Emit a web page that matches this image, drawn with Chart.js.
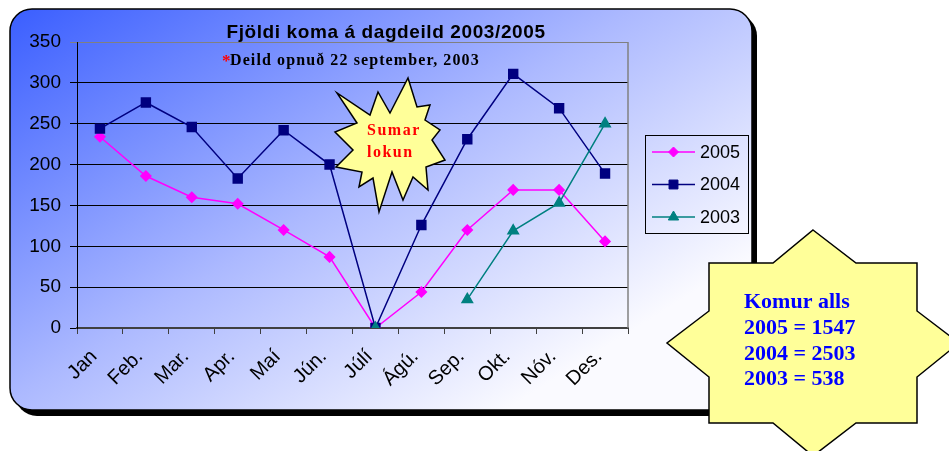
<!DOCTYPE html>
<html>
<head>
<meta charset="utf-8">
<script src="https://cdn.jsdelivr.net/npm/chart.js@4/dist/chart.umd.min.js"></script>
<style>
  html, body { margin: 0; padding: 0; background: #ffffff; }
  #wrap { width: 949px; height: 451px; position: relative; }
  canvas { display: block; }
</style>
</head>
<body>
<div id="wrap"><canvas id="c" width="949" height="451"></canvas></div>
<script>
// ---- data ----
const months = ['Jan', 'Feb.', 'Mar.', 'Apr.', 'Maí', 'Jún.', 'Júlí', 'Ágú.', 'Sep.', 'Okt.', 'Nóv.', 'Des.'];
const series2005 = [234, 186, 160, 152, 120, 87, 0, 44, 120, 169, 169, 106];
const series2004 = [244, 276, 246, 183, 242, 200, 0, 126, 231, 311, 269, 189];
const series2003 = [null, null, null, null, null, null, 0, null, 35, 119, 153, 250];
const seriesNames = ['2005', '2004', '2003'];
const yMax = 350;
const yStep = 50;
const titleText = 'Fjöldi koma á dagdeild 2003/2005';
const noteText = 'Deild opnuð 22 september, 2003';
const burstLines = ['Sumar', 'lokun'];
const totalsLines = ['Komur alls', '2005 = 1547', '2004 = 2503', '2003 = 538'];

const SANS = '"Liberation Sans", Arial, sans-serif';
const SERIF = '"Liberation Serif", "Times New Roman", serif';

function roundRect(ctx, x, y, w, h, r) {
  ctx.beginPath();
  ctx.moveTo(x + r, y);
  ctx.lineTo(x + w - r, y);
  ctx.arcTo(x + w, y, x + w, y + r, r);
  ctx.lineTo(x + w, y + h - r);
  ctx.arcTo(x + w, y + h, x + w - r, y + h, r);
  ctx.lineTo(x + r, y + h);
  ctx.arcTo(x, y + h, x, y + h - r, r);
  ctx.lineTo(x, y + r);
  ctx.arcTo(x, y, x + r, y, r);
  ctx.closePath();
}

function polygon(ctx, cx, cy, pts) {
  ctx.beginPath();
  pts.forEach((p, i) => {
    if (i === 0) ctx.moveTo(cx + p[0], cy + p[1]);
    else ctx.lineTo(cx + p[0], cy + p[1]);
  });
  ctx.closePath();
}

// starburst outline, offsets from its centre
const burstShape = [
  [18, -67], [27, -38], [40, -40], [35, -25], [50, -15], [42, -5], [55, 15], [36, 22],
  [38, 45], [23, 32], [13, 55], [2, 27], [-11, 67], [-17, 33], [-31, 42], [-28, 27],
  [-54, 22], [-37, 5], [-55, -13], [-33, -22], [-53, -52], [-20, -30], [-12, -53], [0, -32]
];
// eight-point star outline, offsets from its centre
const star8Shape = [
  [0, -113], [43, -80], [104, -80], [104, -32], [146, 0], [104, 34], [104, 80], [43, 80],
  [0, 113], [-40, 80], [-104, 80], [-104, 34], [-146, 0], [-104, -32], [-104, -80], [-40, -80]
];

function drawMarker(ctx, style, x, y, r, color) {
  if (Chart.helpers && Chart.helpers.drawPoint) {
    ctx.save();
    ctx.fillStyle = color;
    ctx.strokeStyle = color;
    ctx.lineWidth = 1;
    Chart.helpers.drawPoint(ctx, { pointStyle: style, radius: r, rotation: 0, borderWidth: 1 }, x, y);
    ctx.restore();
  }
}

const decor = {
  id: 'decor',
  beforeDraw(chart) {
    const ctx = chart.ctx;
    ctx.save();
    // shadow
    ctx.fillStyle = '#000000';
    roundRect(ctx, 15, 14, 742, 402, 22);
    ctx.fill();
    // frame
    const g = ctx.createLinearGradient(10, 9, 330, 520);
    g.addColorStop(0, 'rgb(58,94,255)');
    g.addColorStop(0.55, 'rgb(172,185,255)');
    g.addColorStop(1, 'rgb(250,250,255)');
    ctx.fillStyle = g;
    roundRect(ctx, 10, 9, 742, 401, 22);
    ctx.fill();
    ctx.lineWidth = 1.5;
    ctx.strokeStyle = '#000000';
    ctx.stroke();
    ctx.restore();
  },
  beforeDatasetsDraw(chart) {
    const ctx = chart.ctx;
    const a = chart.chartArea;
    ctx.save();
    ctx.strokeStyle = '#808080';
    ctx.lineWidth = 1.5;
    ctx.beginPath();
    ctx.moveTo(a.right, a.top);
    ctx.lineTo(a.right, a.bottom);
    ctx.stroke();
    ctx.restore();
  },
  afterDraw(chart) {
    const ctx = chart.ctx;
    ctx.save();
    // title
    ctx.fillStyle = '#000000';
    ctx.font = 'bold 19px ' + SANS;
    ctx.textAlign = 'center';
    ctx.textBaseline = 'alphabetic';
    ctx.letterSpacing = '0.6px';
    ctx.fillText(titleText, 386, 38);
    // note
    ctx.textAlign = 'left';
    ctx.letterSpacing = '1.1px';
    ctx.font = 'bold 16px ' + SERIF;
    ctx.fillText(noteText, 230, 65);
    ctx.letterSpacing = '0px';
    ctx.fillStyle = '#ff0000';
    ctx.font = 'bold 17px ' + SERIF;
    ctx.fillText('*', 222, 66);

    // starburst
    ctx.fillStyle = '#ffff99';
    ctx.strokeStyle = '#000000';
    ctx.lineWidth = 1.5;
    ctx.lineJoin = 'miter';
    polygon(ctx, 390, 145, burstShape);
    ctx.fill();
    ctx.stroke();
    ctx.fillStyle = '#ff0000';
    ctx.font = 'bold 16px ' + SERIF;
    ctx.letterSpacing = '1.5px';
    ctx.fillText(burstLines[0], 367, 135);
    ctx.fillText(burstLines[1], 367, 157);
    ctx.letterSpacing = '0px';

    // legend
    ctx.strokeStyle = '#000000';
    ctx.lineWidth = 1;
    ctx.strokeRect(645.5, 135.5, 103, 98);
    const ys = [152, 184.5, 217];
    chart.data.datasets.forEach((ds, i) => {
      const y = ys[i];
      ctx.strokeStyle = ds.borderColor;
      ctx.lineWidth = ds.borderWidth;
      ctx.beginPath();
      ctx.moveTo(652, y);
      ctx.lineTo(695, y);
      ctx.stroke();
      drawMarker(ctx, ds.pointStyle, 673.5, y, ds.pointRadius, ds.pointBackgroundColor);
      ctx.fillStyle = '#000000';
      ctx.font = '18px ' + SANS;
      ctx.textBaseline = 'middle';
      ctx.fillText(ds.label, 700, y + 1);
    });
    ctx.textBaseline = 'alphabetic';

    // eight point star with totals
    ctx.fillStyle = '#ffff99';
    ctx.strokeStyle = '#000000';
    ctx.lineWidth = 1.5;
    polygon(ctx, 813, 343, star8Shape);
    ctx.fill();
    ctx.stroke();
    ctx.fillStyle = '#0000ff';
    ctx.font = 'bold 22px ' + SERIF;
    const base = [308, 333.5, 359.5, 385];
    totalsLines.forEach((t, i) => ctx.fillText(t, 744, base[i]));
    ctx.restore();
  }
};

new Chart(document.getElementById('c'), {
  type: 'line',
  data: {
    labels: months,
    datasets: [
      { label: seriesNames[0], data: series2005, borderColor: '#ff00ff', backgroundColor: '#ff00ff',
        pointBackgroundColor: '#ff00ff', pointBorderColor: '#ff00ff', pointStyle: 'rectRot',
        pointRadius: 5, borderWidth: 1.5, order: 2, tension: 0 },
      { label: seriesNames[1], data: series2004, borderColor: '#000080', backgroundColor: '#000080',
        pointBackgroundColor: '#000080', pointBorderColor: '#000080', pointStyle: 'rect',
        pointRadius: 6.3, borderWidth: 1.5, order: 1, tension: 0 },
      { label: seriesNames[2], data: series2003, borderColor: '#008080', backgroundColor: '#008080',
        pointBackgroundColor: '#008080', pointBorderColor: '#008080', pointStyle: 'triangle',
        pointRadius: 6, borderWidth: 1.5, order: 0, tension: 0 }
    ]
  },
  options: {
    responsive: false,
    animation: false,
    events: [],
    layout: { padding: { top: 42, right: 321, bottom: 48, left: 0 } },
    plugins: { legend: { display: false }, tooltip: { enabled: false }, title: { display: false } },
    scales: {
      x: {
        offset: true,
        grid: { offset: true, drawOnChartArea: false, drawTicks: true, tickLength: 6, color: '#404040', lineWidth: 1 },
        border: { display: true, color: '#404040', width: 2 },
        ticks: { color: '#000000', font: { family: SANS, size: 20 }, minRotation: 45, maxRotation: 45, padding: 11, labelOffset: -6, autoSkip: false },
        afterFit(s) { s.height = 75; }
      },
      y: {
        min: 0, max: yMax,
        ticks: { stepSize: yStep, color: '#000000', font: { family: SANS, size: 19 }, padding: 9 },
        grid: { color: (c) => (c.tick && c.tick.value === yMax ? '#808080' : '#000000'), lineWidth: 1, tickLength: 7, drawTicks: true },
        border: { display: true, color: '#000000', width: 1 },
        afterFit(s) { s.width = 77; }
      }
    }
  },
  plugins: [decor]
});
</script>
</body>
</html>
